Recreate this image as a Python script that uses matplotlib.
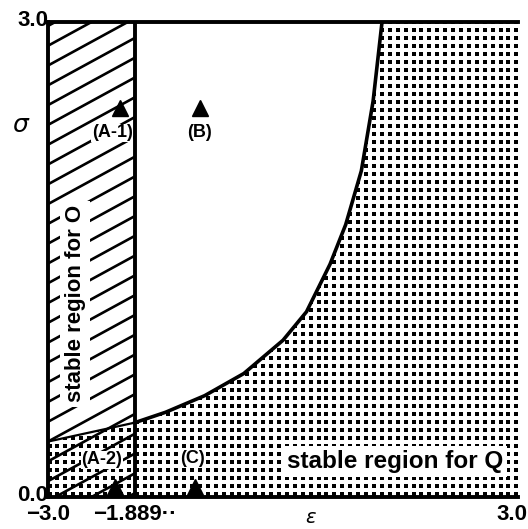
"""
Stability regions of the O and Q states in the (epsilon, sigma) plane.
"""

import numpy as np
import matplotlib.pyplot as plt
from matplotlib.patches import Polygon, Rectangle
from matplotlib.transforms import ScaledTranslation

# boundary of the Q-stable region (sigma as a function of epsilon)
eps_curve = [-1.889, -1.5, -1.0, -0.5, 0.0, 0.3, 0.6, 0.8, 1.0, 1.15, 1.264]
sig_curve = [0.47, 0.535, 0.64, 0.78, 0.99, 1.17, 1.47, 1.72, 2.06, 2.5, 3.0]

# Q boundary inside the O-stable strip
eps_left = [-3.0, -1.889]
sig_left = [0.35, 0.47]

eps_crit = -1.889

# parameter points and where their names go
pt_names = ["(A-1)", "(B)", "(A-2)", "(C)"]
pt_eps = [-2.08, -1.06, -2.14, -1.12]
pt_sig = [2.46, 2.46, 0.06, 0.06]
lab_eps = [-2.18, -1.06, -2.31, -1.16]
lab_sig = [2.30, 2.305, 0.234, 0.246]

FONT = ["Liberation Sans", "DejaVu Sans"]

fig = plt.figure(figsize=(5.28, 5.29), dpi=100)
ax = fig.add_axes([0.0909, 0.0605, 0.8902, 0.8979])
ax.set_xlim(-3.0, 3.0)
ax.set_ylim(0.0, 3.0)

# Q-stable region: everything below the boundary, dotted
q_x = [-3.0] + eps_left + eps_curve[1:] + [3.0, 3.0, -3.0]
q_y = [0.0] + sig_left + sig_curve[1:] + [3.0, 0.0, 0.0]
q_poly = Polygon(np.column_stack([q_x, q_y]), closed=True,
                 facecolor="none", edgecolor="none")
ax.add_patch(q_poly)
gx, gy = np.meshgrid(np.arange(-2.98, 3.0, 0.101),
                     np.arange(0.02, 3.0, 0.0505))
dots = ax.scatter(gx.ravel(), gy.ravel(), s=5, marker="s",
                  color="black", linewidths=0, zorder=1)
dots.set_clip_path(q_poly)

# O-stable strip: diagonal hatching
o_rect = Rectangle((-3.0, 0.0), eps_crit + 3.0, 3.0,
                   facecolor="none", edgecolor="none")
ax.add_patch(o_rect)
hx = np.array([-3.0, eps_crit])
for y0 in np.arange(-0.4, 3.0, 0.125):
    ln, = ax.plot(hx, y0 + 0.27 * (hx + 3.0), color="black", lw=1.9,
                  zorder=2)
    ln.set_clip_path(o_rect)

# boundaries
ax.plot(eps_curve, sig_curve, color="black", lw=2.6, zorder=4)
ax.plot(eps_left, sig_left, color="black", lw=1.6, zorder=4)
ax.plot([eps_crit, eps_crit], [0.0, 3.0], color="black", lw=2.8, zorder=4)

# region labels
ax.text(-2.655, 1.22, "stable region for O", rotation=90, ha="center",
        va="center", fontsize=16, weight="bold", family=FONT, zorder=5,
        bbox=dict(facecolor="white", edgecolor="none", pad=3))
ax.text(1.43, 0.225, "stable region for Q", ha="center", va="center",
        fontsize=17.5, weight="bold", family=FONT, zorder=5,
        bbox=dict(facecolor="white", edgecolor="none", pad=3))

# parameter points
ax.plot(pt_eps, pt_sig, "^", color="black", ms=12, clip_on=False, zorder=6)
for name, e, s in zip(pt_names, lab_eps, lab_sig):
    ax.text(e, s, name, ha="center", va="center", fontsize=13,
            weight="bold", family=FONT, zorder=6,
            bbox=dict(facecolor="white", edgecolor="none", pad=0.5))

# axes, ticks and labels
for side in ["left", "bottom", "top"]:
    ax.spines[side].set_linewidth(2.8)
ax.spines["right"].set_visible(False)
ax.set_xticks([-3.0, eps_crit, 3.0])
ax.set_xticklabels(["\u22123.0", "\u22121.889\u00b7\u00b7", "3.0"])
ax.set_yticks([0.0, 3.0])
ax.set_yticklabels(["0.0", "3.0"])
ax.tick_params(axis="x", length=0, labelsize=16, pad=5)
ax.tick_params(axis="y", length=0, labelsize=16, pad=0)
for lab in ax.get_xticklabels() + ax.get_yticklabels():
    lab.set_family(FONT)
    lab.set_weight("bold")

# nudge the corner labels so they sit like the printed ones
xl = ax.get_xticklabels()
xl[2].set_transform(xl[2].get_transform()
                    + ScaledTranslation(-0.06, 0, fig.dpi_scale_trans))
for lab in ax.get_yticklabels():
    lab.set_transform(lab.get_transform()
                      + ScaledTranslation(0, 0.04, fig.dpi_scale_trans))

ax.text(-0.06, 2.35, "\u03c3", transform=ax.get_yaxis_transform(),
        ha="center", va="center", fontsize=18, style="italic")
ax.text(0.345, -0.043, "\u03b5", transform=ax.get_xaxis_transform(),
        ha="center", va="center", fontsize=14, style="italic")

fig.savefig("out.png", dpi=100)
